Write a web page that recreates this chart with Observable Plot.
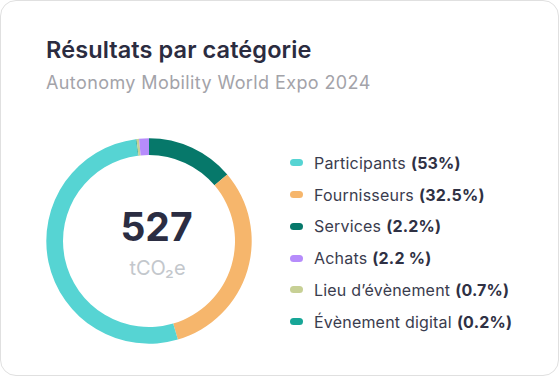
<!DOCTYPE html>
<html>
<head>
<meta charset="utf-8">
<script src="https://cdn.jsdelivr.net/npm/d3@7"></script>
<script src="https://cdn.jsdelivr.net/npm/@observablehq/plot@0.6"></script>
<style>
  html, body { margin: 0; padding: 0; background: #fff; }
  body { font-family: Inter, "Noto Sans", sans-serif; width: 560px; height: 377px; position: relative; overflow: hidden; }
  #card { position: absolute; left: 0; top: 0; width: 557px; height: 374px; border: 1px solid #e0e0e0; border-radius: 16px; background: #fff; }
  #title { position: absolute; left: 45px; top: 37px; font-size: 23.5px; line-height: 23px; font-weight: 600; color: #2b2c40; white-space: nowrap; letter-spacing: 0.1px; }
  #subtitle { position: absolute; left: 45px; top: 73px; font-size: 18px; line-height: 18px; color: #a3a3a9; white-space: nowrap; letter-spacing: 0.4px; }
  #chart { position: absolute; left: 28.5px; top: 120.5px; }
  #legend { position: absolute; left: 290px; top: 0; }
  .row { position: absolute; left: 0; height: 32px; display: flex; align-items: center; white-space: nowrap; font-size: 16px; color: #3a3c4e; letter-spacing: 0.2px; }
  .sw { width: 13px; height: 7px; border-radius: 4px; margin-right: 11px; flex: none; }
  .row b { font-weight: 700; color: #2f3144; margin-left: 5px; }
</style>
</head>
<body>
<div id="card">
  <div id="title"></div>
  <div id="subtitle"></div>
</div>
<div id="chart"></div>
<div id="legend"></div>
<script>
// ---- Data ----
const titleText = "Résultats par catégorie";
const subtitleText = "Autonomy Mobility World Expo 2024";
const totalValue = "527";
const unitText = "tCO₂e";

// Legend (order as listed)
const legendCategories = ["Participants", "Fournisseurs", "Services", "Achats", "Lieu d’évènement", "Évènement digital"];
const legendPercents = ["(53%)", "(32.5%)", "(2.2%)", "(2.2 %)", "(0.7%)", "(0.2%)"];
const categoryColors = ["#56d4d3", "#f6b66c", "#06786a", "#b68cfb", "#c7d095", "#17a697"];

// Ring slices, clockwise from 12 o'clock (shares read from the drawn ring, %)
const ringCategories = ["Services", "Fournisseurs", "Participants", "Évènement digital", "Lieu d’évènement", "Achats"];
const ringShares = [13.8, 31.7, 52.5, 0.12, 0.4, 1.55];

// ---- Layout ----
document.getElementById("title").textContent = titleText;
document.getElementById("subtitle").textContent = subtitleText;

const slices = ringCategories.map((category, i) => ({category, share: ringShares[i]}));

const outerR = 102.7, innerR = 86;

function donut(index, scales, values, dimensions) {
  const {width, height} = dimensions;
  const color = scales.color ?? d3.scaleOrdinal(legendCategories, categoryColors);
  const g = d3.create("svg:g").attr("transform", `translate(${width / 2},${height / 2})`);
  const pie = d3.pie().sort(null).value(d => d.share);
  const arc = d3.arc().innerRadius(innerR).outerRadius(outerR);
  g.selectAll("path")
    .data(pie(slices))
    .join("path")
    .attr("d", arc)
    .attr("fill", d => color(d.data.category));
  return g.node();
}

const chart = Plot.plot({
  width: 240,
  height: 240,
  margin: 0,
  style: {background: "transparent", fontFamily: "Inter, 'Noto Sans', sans-serif", overflow: "visible"},
  color: {domain: legendCategories, range: categoryColors},
  marks: [
    donut,
    Plot.text([totalValue], {text: d => d, frameAnchor: "middle", dx: 7, dy: -13, fontSize: 39, fontWeight: 700, fill: "#2b2d42"}),
    Plot.text([unitText], {text: d => d, frameAnchor: "middle", dx: 8, dy: 27, fontSize: 20, fill: "#c3c7cc"})
  ]
});
document.getElementById("chart").appendChild(chart);

// HTML legend
const legend = document.getElementById("legend");
const rowCenter0 = 162.7, rowStep = 31.8;
legendCategories.forEach((cat, i) => {
  const row = document.createElement("div");
  row.className = "row";
  row.style.top = (rowCenter0 + rowStep * i - 16) + "px";
  const sw = document.createElement("span");
  sw.className = "sw";
  sw.style.background = categoryColors[i];
  const label = document.createElement("span");
  label.textContent = cat;
  const pct = document.createElement("b");
  pct.textContent = legendPercents[i];
  row.append(sw, label, pct);
  legend.appendChild(row);
});
</script>
</body>
</html>
